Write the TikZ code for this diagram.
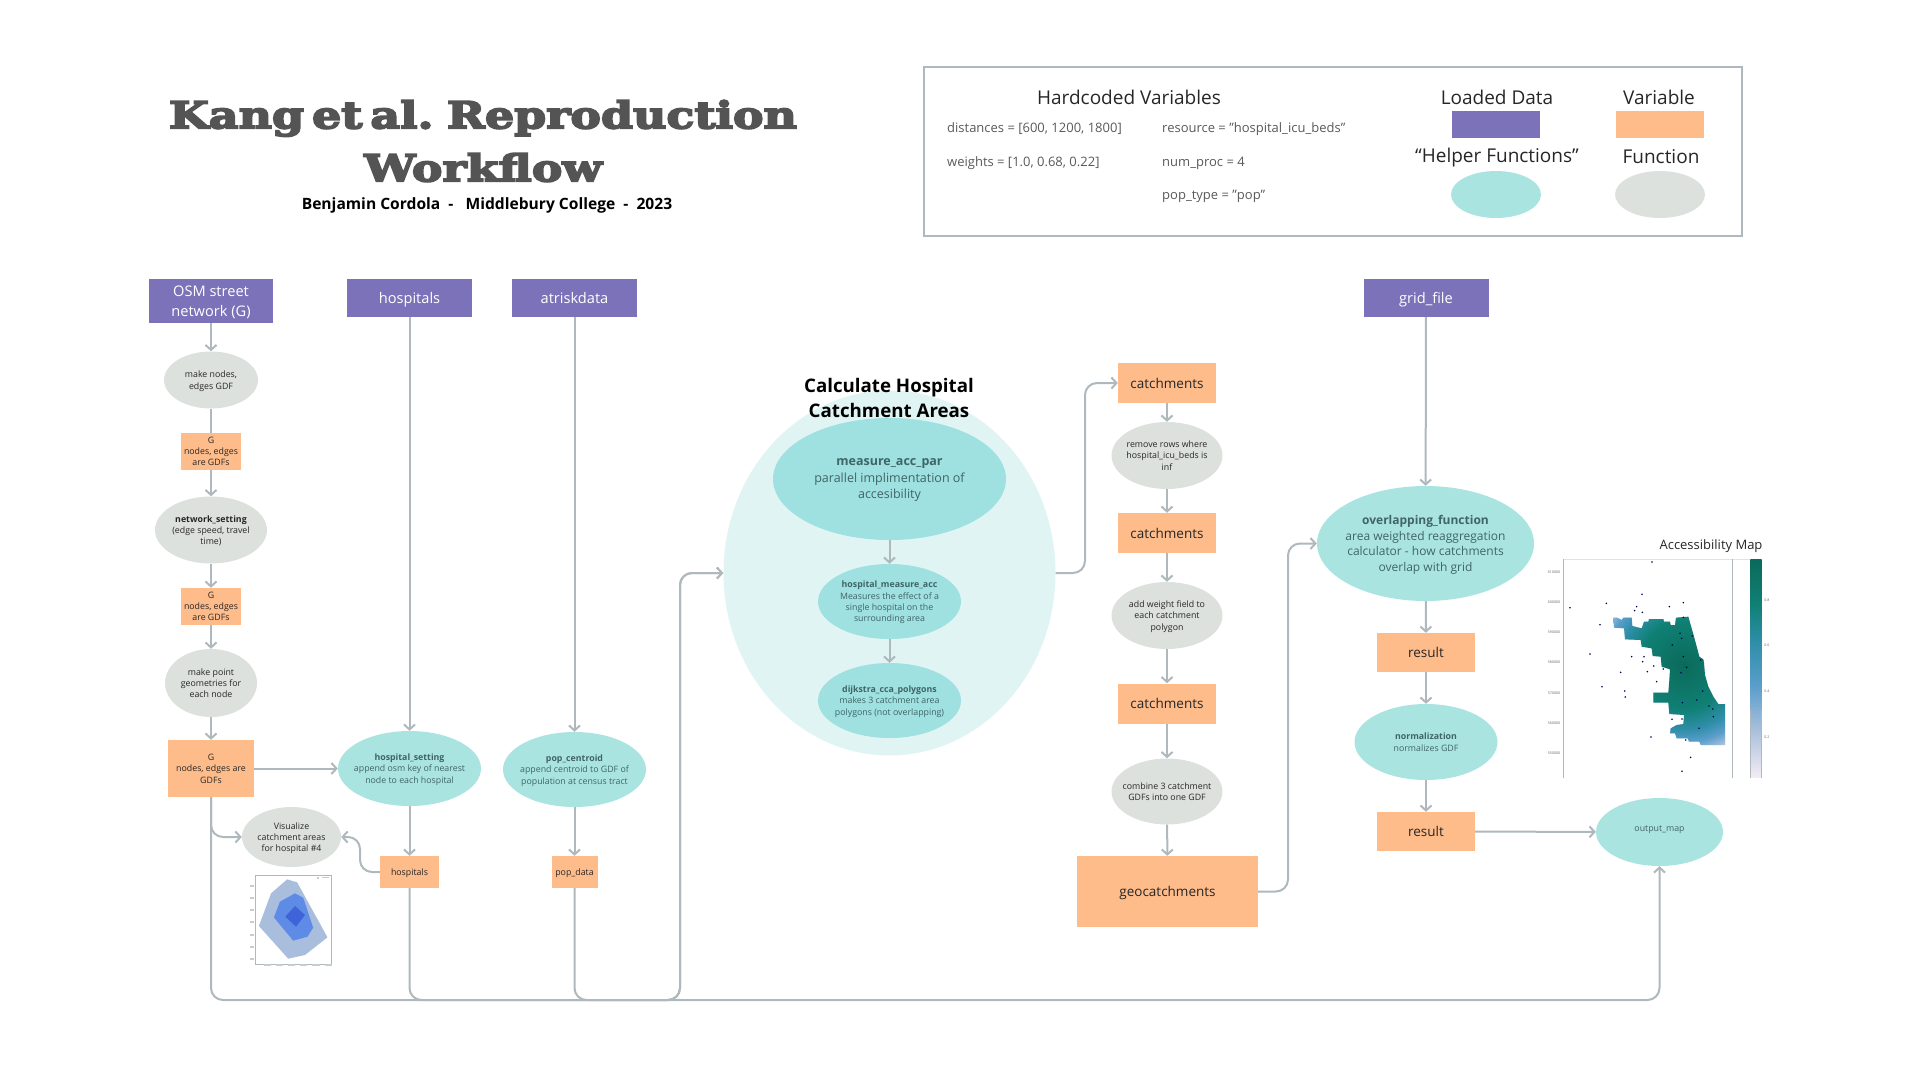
\documentclass[tikz,border=0pt]{standalone}
\usepackage{fontspec}
\setmainfont{Open Sans}
\newfontfamily\titlefont[BoldFeatures={RawFeature={embolden=5},FakeStretch=1.24,WordSpace=0.5}]{DejaVu Serif}
\usetikzlibrary{arrows.meta,shapes.geometric}

\definecolor{dataPurple}{HTML}{7B72B9}
\definecolor{varOrange}{HTML}{FFBC8B}
\definecolor{helperTeal}{HTML}{AAE4E1}
\definecolor{deepTeal}{HTML}{9FE0E0}
\definecolor{paleTeal}{HTML}{E0F4F3}
\definecolor{funcGrey}{HTML}{DDE1DE}
\definecolor{lineGrey}{HTML}{AEB8BD}
\definecolor{helperText}{HTML}{3F6566}
\definecolor{mapA}{HTML}{0B6A5A}
\definecolor{mapB}{HTML}{0F8074}
\definecolor{mapC}{HTML}{2F8EA8}
\definecolor{mapD}{HTML}{5A9ECB}
\definecolor{mapE}{HTML}{A9BFDC}
\definecolor{mapF}{HTML}{D8D3E6}
\definecolor{mapG}{HTML}{F4ECF5}
\definecolor{plotOuter}{HTML}{A9BDDC}
\definecolor{plotMiddle}{HTML}{5E8BE6}
\definecolor{plotInner}{HTML}{3F63D8}

\pgfdeclareverticalshading{colorbar}{100bp}{color(0bp)=(mapG); color(25bp)=(mapG); color(36bp)=(mapE); color(46bp)=(mapD); color(56bp)=(mapC); color(65bp)=(mapB); color(75bp)=(mapA); color(100bp)=(mapA)}
\pgfdeclareradialshading{mapglow}{\pgfpointorigin}{color(0bp)=(mapA); color(12bp)=(mapB); color(17.5bp)=(mapC); color(21bp)=(mapD); color(24bp)=(mapE); color(25bp)=(mapF); color(50bp)=(mapF)}

\tikzset{
	datanode/.style={rectangle,fill=dataPurple,text=white,font=\fontsize{14.6}{20}\selectfont,align=center,inner sep=0,text depth=0pt,minimum width=125,minimum height=38},
	varnode/.style={rectangle,fill=varOrange,text=black!85,font=\fontsize{8.8}{11.3}\selectfont,align=center,inner sep=0,text depth=0pt},
	fnnode/.style={ellipse,fill=funcGrey,text=black!85,font=\fontsize{8.8}{11.3}\selectfont,align=center,inner sep=-8pt,text depth=0pt},
	helpernode/.style={ellipse,fill=helperTeal,text=helperText,font=\fontsize{8.8}{11.3}\selectfont,align=center,inner sep=-8pt,text depth=0pt},
	conn/.style={draw=lineGrey,line width=2pt,rounded corners=12,-{Straight Barb[length=5pt,width=11pt,line width=2pt]}},
	plain/.style={draw=lineGrey,line width=2pt,rounded corners=12},
	legendhead/.style={font=\fontsize{19}{22}\selectfont,text=black!85},
	legendvar/.style={font=\fontsize{13}{14}\selectfont,text=black!65,anchor=west,inner sep=0},
	tinylabel/.style={font=\fontsize{3.6}{4}\selectfont,text=black!60,inner sep=0},
	bigtext/.style={font=\fontsize{13.5}{17}\selectfont}
}

\begin{document}
\begin{tikzpicture}[x=1pt,y=-1pt]
		\useasboundingbox (0,0) rectangle (1920,1080);
		
		% title
		\node[font=\titlefont\bfseries\fontsize{37}{53}\selectfont,text=black!67,align=center] (title) at (483,141) {Kang et al. Reproduction\\Workflow};
		\node[font=\bfseries\fontsize{15.6}{18}\selectfont] (byline) at (487,205) {Benjamin Cordola\ \ -\ \ \ Middlebury College\ \ -\ \ 2023};
		
		% legend box
		\node[draw=lineGrey,line width=2pt,minimum width=818,minimum height=169,inner sep=0] (legend) at (1333,151.5) {};
		\node[legendhead] (hardcoded) at (1129,97) {Hardcoded Variables};
		\node[legendvar] (vdist) at (947,129) {distances = [600, 1200, 1800]};
		\node[legendvar] (vweights) at (947,163) {weights = [1.0, 0.68, 0.22]};
		\node[legendvar] (vres) at (1162,129) {resource = "hospital\_icu\_beds"};
		\node[legendvar] (vproc) at (1162,163) {num\_proc = 4};
		\node[legendvar] (vpop) at (1162,196) {pop\_type = "pop"};
		\node[legendhead] (hloaded) at (1497,97) {Loaded Data};
		\node[legendhead] (hvariable) at (1659,97) {Variable};
		\node[legendhead] (hhelper) at (1497,158) {“Helper Functions”};
		\node[legendhead] (hfunction) at (1661,157) {Function};
		\node[rectangle,fill=dataPurple,minimum width=88,minimum height=27,inner sep=0] (kdata) at (1496,124.5) {};
		\node[rectangle,fill=varOrange,minimum width=88,minimum height=27,inner sep=0] (kvar) at (1660,124.5) {};
		\node[ellipse,fill=helperTeal,minimum width=90,minimum height=47,inner sep=0] (khelper) at (1496,194.5) {};
		\node[ellipse,fill=funcGrey,minimum width=90,minimum height=47,inner sep=0] (kfunc) at (1660,194.5) {};
		
		% loaded data
		\node[datanode,minimum width=124,minimum height=44] (osm) at (211,301) {OSM street\\network (G)};
		\node[datanode] (hosp) at (409.5,298) {hospitals};
		\node[datanode] (atrisk) at (574.5,298) {atriskdata};
		\node[datanode] (grid) at (1426,298) {grid\_file};
		
		% street network column
		\node[fnnode,minimum width=94,minimum height=57] (mknodes) at (211,380) {make nodes,\\edges GDF};
		\node[varnode,minimum width=60,minimum height=37] (gone) at (211,451.5) {G\\nodes, edges\\are GDFs};
		\node[fnnode,minimum width=112,minimum height=67] (netset) at (211,530) {\textbf{network\_setting}\\(edge speed, travel\\time)};
		\node[varnode,minimum width=60,minimum height=37] (gtwo) at (211,606.5) {G\\nodes, edges\\are GDFs};
		\node[fnnode,minimum width=92,minimum height=68] (mkpoint) at (211,683) {make point\\geometries for\\each node};
		\node[varnode,minimum width=86,minimum height=57] (gthree) at (211,768.5) {G\\nodes, edges are\\GDFs};
		\node[fnnode,minimum width=99,minimum height=60] (visual) at (291.5,837) {Visualize\\catchment areas\\for hospital \#4};
		
		% hospital and population columns
		\node[helpernode,minimum width=143,minimum height=75] (hospset) at (409.5,768.5) {\textbf{hospital\_setting}\\append osm key of nearest\\node to each hospital};
		\node[helpernode,minimum width=143,minimum height=75] (popcent) at (574.5,769.5) {\textbf{pop\_centroid}\\append centroid to GDF of\\population at census tract};
		\node[varnode,minimum width=59,minimum height=32] (hospdata) at (409.5,872) {hospitals};
		\node[varnode,minimum width=46,minimum height=32] (popdata) at (574.5,872) {pop\_data};
		
		% catchment helpers
		\node[ellipse,fill=paleTeal,minimum width=332,minimum height=365,inner sep=0] (catcharea) at (889.5,573) {};
		\node[font=\bfseries\fontsize{18.7}{25}\selectfont,align=center] (catchtitle) at (889,397.5) {Calculate Hospital\\Catchment Areas};
		\node[helpernode,fill=deepTeal,minimum width=233,minimum height=122,font=\fontsize{12.5}{16.5}\selectfont] (measure) at (889.5,479) {\textbf{measure\_acc\_par}\\parallel implimentation of\\accesibility};
		\node[helpernode,fill=deepTeal,minimum width=143,minimum height=75] (hospmeas) at (889.5,601.5) {\textbf{hospital\_measure\_acc}\\Measures the effect of a\\single hospital on the\\surrounding area};
		\node[helpernode,fill=deepTeal,minimum width=143,minimum height=75] (dijkstra) at (889.5,700.5) {\textbf{dijkstra\_cca\_polygons}\\makes 3 catchment area\\polygons (not overlapping)};
		
		% catchments column
		\node[varnode,bigtext,minimum width=98,minimum height=40] (catchone) at (1167,383) {catchments};
		\node[fnnode,minimum width=111,minimum height=67] (rmrows) at (1167,455.5) {remove rows where\\hospital\_icu\_beds is\\inf};
		\node[varnode,bigtext,minimum width=98,minimum height=40] (catchtwo) at (1167,533) {catchments};
		\node[fnnode,minimum width=111,minimum height=67] (addweight) at (1167,615.5) {add weight field to\\each catchment\\polygon};
		\node[varnode,bigtext,minimum width=98,minimum height=40] (catchthree) at (1167,703.5) {catchments};
		\node[fnnode,minimum width=111,minimum height=66] (combine) at (1167,791.5) {combine 3 catchment\\GDFs into one GDF};
		\node[varnode,bigtext,minimum width=181,minimum height=71] (geocatch) at (1167.5,891.5) {geocatchments};
		
		% grid column
		\node[helpernode,minimum width=217,minimum height=115,font=\fontsize{12}{15.7}\selectfont] (overlap) at (1425.5,543.5) {\textbf{overlapping\_function}\\area weighted reaggregation\\calculator - how catchments\\overlap with grid};
		\node[varnode,bigtext,minimum width=98,minimum height=39] (resone) at (1426,652.5) {result};
		\node[helpernode,minimum width=143,minimum height=76] (norm) at (1426,742) {\textbf{normalization}\\normalizes GDF};
		\node[varnode,bigtext,minimum width=98,minimum height=39] (restwo) at (1426,831.5) {result};
		\node[helpernode,minimum width=127,minimum height=68] (outmap) at (1659.5,832) {\raisebox{6pt}{output\_map}};
		
		% free ends of the bottom lines
		\coordinate (busG) at (211,1000);
		\coordinate (busH) at (409.5,1000);
		\coordinate (busP) at (574.5,1000);
		\coordinate (busUp) at (680,1000);
		\coordinate (busOut) at (1659.5,1000);
		\coordinate (upTop) at (680,573);
		\coordinate (catchBend) at (1085,573);
		\coordinate (catchTop) at (1085,383);
		\coordinate (geoBend) at (1288,891.5);
		\coordinate (geoTop) at (1288,543.5);
		\coordinate (gBend) at (211,837);
		\coordinate (hBendA) at (360,872);
		\coordinate (hBendB) at (360,837);
		
		% connectors
		\draw[conn] (osm) -- (mknodes);
		\draw[plain] (mknodes) -- (gone);
		\draw[conn] (gone) -- (netset);
		\draw[conn] (netset) -- (gtwo);
		\draw[conn] (gtwo) -- (mkpoint);
		\draw[conn] (mkpoint) -- (gthree);
		\draw[conn] (gthree) -- (hospset);
		\draw[conn] (gthree.south) -- (gBend) -- (visual.west);
		\draw[conn] (hospdata.west) -- (hBendA) -- (hBendB) -- (visual.east);
		\draw[conn] (hosp) -- (hospset);
		\draw[conn] (hospset) -- (hospdata);
		\draw[conn] (atrisk) -- (popcent);
		\draw[conn] (popcent) -- (popdata);
		\draw[conn] (gthree.south) -- (busG) -- (busOut) -- (outmap.south);
		\draw[conn] (hospdata.south) -- (busH) -- (busUp) -- (upTop) -- (catcharea.west);
		\draw[conn] (popdata.south) -- (busP) -- (busUp) -- (upTop) -- (catcharea.west);
		\draw[conn] (measure) -- (hospmeas);
		\draw[conn] (hospmeas) -- (dijkstra);
		\draw[conn] (catcharea.east) -- (catchBend) -- (catchTop) -- (catchone.west);
		\draw[conn] (catchone) -- (rmrows);
		\draw[conn] (rmrows) -- (catchtwo);
		\draw[conn] (catchtwo) -- (addweight);
		\draw[conn] (addweight) -- (catchthree);
		\draw[conn] (catchthree) -- (combine);
		\draw[conn] (combine) -- (geocatch);
		\draw[conn] (geocatch.east) -- (geoBend) -- (geoTop) -- (overlap.west);
		\draw[conn] (grid) -- (overlap);
		\draw[conn] (overlap) -- (resone);
		\draw[conn] (resone) -- (norm);
		\draw[conn] (norm) -- (restwo);
		\draw[conn] (restwo) -- (outmap);
		
		% small catchment plot
		\begin{scope}[shift={(130,680)},xscale=1/2.8,yscale=1/3]
			\draw[lineGrey,line width=0.7pt] (351,585) rectangle (565,852);
			\fill[plotOuter] (361,738) -- (395,640) -- (440,598) -- (468,607) -- (553,772) -- (490,825) -- (443,836) -- cycle;
			\fill[plotMiddle] (403,712) -- (420,665) -- (462,640) -- (485,653) -- (513,743) -- (497,770) -- (457,782) -- cycle;
			\fill[plotInner] (435,710) -- (462,678) -- (490,705) -- (465,740) -- cycle;
			\fill[lineGrey!70] (523,590) rectangle (529,596);
			\fill[lineGrey!70] (538,591) rectangle (558,595);
			\foreach \y in {618,654,690,727,764,800,836}
				\fill[lineGrey!70] (337,\y-3) rectangle (347,\y+3);
			\foreach \x in {384,418,452,487,521,555}
				\fill[lineGrey!70] (\x-10,853) rectangle (\x+10,859);
		\end{scope}
		
		% accessibility map
		\node[font=\fontsize{13}{15}\selectfont,text=black!85] (maptitle) at (1711,546) {Accessibility Map};
		\begin{scope}[shift={(1540,550)},scale=1/3]
			\draw[lineGrey!40,line width=0.4pt] (70,28) -- (665,28);
			\draw[lineGrey,line width=0.9pt] (70,28) -- (70,683);
			\draw[lineGrey,line width=0.9pt] (577,28) -- (577,683);
			\begin{scope}
				\clip (220,203) -- (232,203) -- (245,210) -- (250,203) -- (275,203) -- (277,228) -- (305,235) -- (312,215) -- (325,215) -- (327,207) -- (370,207) -- (372,215) -- (390,215) -- (392,225) -- (405,225) -- (408,203) -- (445,200) -- (452,225) -- (462,260) -- (470,290) -- (478,320) -- (490,328) -- (492,340) -- (495,375) -- (505,410) -- (520,440) -- (535,462) -- (555,462) -- (555,585) -- (482,585) -- (478,575) -- (447,575) -- (443,565) -- (410,565) -- (405,550) -- (390,550) -- (392,535) -- (410,525) -- (430,522) -- (432,495) -- (388,492) -- (385,458) -- (340,458) -- (340,428) -- (385,428) -- (388,390) -- (390,358) -- (365,350) -- (362,320) -- (338,318) -- (335,295) -- (305,290) -- (302,270) -- (255,268) -- (252,235) -- (222,233) -- cycle;
				\fill[mapF] (200,180) rectangle (570,600);
				\begin{scope}[reset cm]
					\shade[shading=mapglow] (1683.3,665) circle (92);
				\end{scope}
			\end{scope}
			% hospitals on the map
			\foreach \x/\y in {336/36,306/133,199/160,90/173,290/170,284/182,307/187,388/170,430/158,180/224,150/312,275/320,312/320,308/335,341/348,242/367,322/365,350/395,186/410,254/423,256/441,333/561,437/570,452/622,426/664,396/508,426/507,430/202,420/250,457/258,425/265,397/285,430/320,482/330,370/357,440/352,423/368,518/477,507/468,520/500,477/535,427/458,470/450,488/423}
				\fill[blue!35!black] (\x,\y) circle (2.6);
			\foreach \y/\lab [count=\i] in {66/610000,158/600000,248/590000,338/580000,429/570000,520/560000,611/550000}
				\node[tinylabel] (ytick\i) at (42,\y) {\lab};
			\foreach \y/\lab [count=\i] in {150/0.8,287/0.6,425/0.4,563/0.2}
				\node[tinylabel] (bartick\i) at (681,\y) {\lab};
		\end{scope}
		
		% colour bar
		\shade[shading=colorbar] (1750.3,559.3) rectangle (1761.7,777.7);
		\draw[lineGrey,line width=0.8pt] (1750.3,710) -- (1750.3,777.7);
		\draw[lineGrey,line width=0.8pt] (1761.7,710) -- (1761.7,777.7);
		
	\end{tikzpicture}
\end{document}
